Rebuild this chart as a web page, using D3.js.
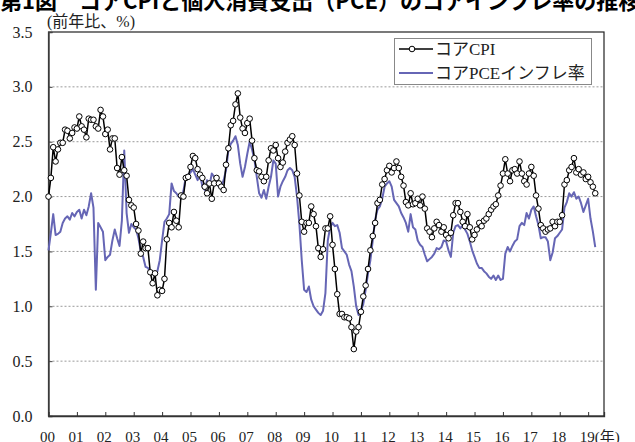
<!DOCTYPE html>
<html><head><meta charset="utf-8">
<script src="https://cdn.jsdelivr.net/npm/d3@7"></script>
<style>body{margin:0;background:#fff}svg{display:block}</style>
</head><body><svg id="c" width="635" height="442"></svg>
<script>
const titleText = "第1図　コアCPIと個人消費支出（PCE）のコアインフレ率の推移";
const unitLabel = "(前年比、%)";
const yearLabels = ["00","01","02","03","04","05","06","07","08","09","10","11","12","13","14","15","16","17","18","19"];
const yTicks = [0, 0.5, 1.0, 1.5, 2.0, 2.5, 3.0, 3.5];
const seriesNames = ["コアCPI", "コアPCEインフレ率"];
// monthly, Jan 2000 - Apr 2019, % y/y
const coreCPI = [
2.00,2.17,2.45,2.32,2.43,2.49,2.49,2.61,2.60,2.53,2.58,2.63,
2.62,2.73,2.64,2.61,2.54,2.71,2.70,2.70,2.64,2.62,2.79,2.73,
2.57,2.61,2.43,2.53,2.53,2.26,2.20,2.36,2.24,2.19,1.97,1.92,
1.90,1.75,1.69,1.48,1.59,1.53,1.53,1.31,1.21,1.30,1.10,1.15,
1.14,1.25,1.61,1.76,1.72,1.86,1.78,1.72,2.01,2.00,2.17,2.18,
2.27,2.37,2.35,2.25,2.20,2.17,2.09,2.03,2.12,1.98,2.12,2.17,
2.12,2.09,2.06,2.29,2.44,2.65,2.69,2.84,2.94,2.72,2.62,2.58,
2.67,2.71,2.51,2.35,2.24,2.23,2.18,2.14,2.18,2.33,2.44,2.42,
2.47,2.35,2.27,2.31,2.41,2.49,2.52,2.55,2.47,2.21,2.01,1.77,
1.68,1.76,1.76,1.91,1.84,1.73,1.53,1.45,1.52,1.71,1.71,1.82,
1.56,1.34,1.11,0.93,0.93,0.90,0.90,0.89,0.81,0.61,0.77,0.81,
0.95,1.09,1.19,1.34,1.51,1.64,1.76,1.94,1.97,2.11,2.16,2.24,
2.28,2.22,2.26,2.32,2.26,2.18,2.10,1.95,1.92,2.03,1.93,1.94,
1.98,1.92,2.00,1.89,1.71,1.68,1.63,1.71,1.77,1.74,1.68,1.72,
1.65,1.62,1.67,1.83,1.94,1.94,1.86,1.77,1.73,1.84,1.72,1.61,
1.65,1.70,1.76,1.73,1.78,1.80,1.84,1.88,1.91,1.93,2.01,2.10,
2.21,2.34,2.21,2.14,2.24,2.25,2.21,2.32,2.21,2.14,2.11,2.21,
2.27,2.19,2.01,1.89,1.74,1.71,1.68,1.70,1.71,1.77,1.73,1.77,
1.77,1.83,2.11,2.15,2.24,2.27,2.35,2.22,2.25,2.20,2.22,2.16,
2.18,2.13,2.09,2.03];
const corePCE = [
1.51,1.67,1.84,1.65,1.66,1.68,1.76,1.80,1.82,1.79,1.85,1.82,
1.86,1.88,1.80,1.88,1.83,1.91,2.03,1.90,1.15,1.76,1.72,1.68,
1.42,1.45,1.47,1.60,1.70,1.62,1.55,1.78,2.42,1.85,1.67,1.75,
1.72,1.70,1.62,1.50,1.45,1.36,1.35,1.31,1.30,1.28,1.32,1.42,
1.60,1.77,1.80,1.84,2.12,2.05,2.03,2.00,1.98,2.05,2.18,2.20,
2.22,2.25,2.20,2.15,2.21,2.09,2.06,2.15,2.10,2.21,2.18,2.12,
2.09,2.09,2.15,2.24,2.42,2.48,2.51,2.55,2.47,2.30,2.18,2.27,
2.39,2.50,2.43,2.34,2.18,2.03,1.99,2.06,1.98,2.09,2.18,2.33,
2.30,2.00,2.09,2.14,2.18,2.24,2.26,2.24,2.18,2.00,1.75,1.42,
1.15,1.13,1.18,1.06,1.00,0.97,0.94,0.92,0.96,1.12,1.60,1.72,
1.76,1.73,1.74,1.67,1.53,1.50,1.47,1.38,1.32,1.18,1.00,0.92,
0.96,1.02,1.15,1.30,1.42,1.60,1.79,1.88,1.91,1.98,2.09,2.12,
2.14,2.09,1.97,1.94,1.91,1.85,1.81,1.76,1.68,1.84,1.72,1.70,
1.60,1.56,1.54,1.47,1.41,1.43,1.45,1.48,1.53,1.52,1.54,1.60,
1.59,1.51,1.45,1.67,1.73,1.74,1.71,1.74,1.70,1.66,1.59,1.51,
1.45,1.39,1.35,1.35,1.32,1.30,1.27,1.25,1.28,1.24,1.28,1.24,
1.25,1.48,1.54,1.50,1.55,1.59,1.61,1.73,1.76,1.74,1.85,1.80,
1.88,1.91,1.82,1.74,1.62,1.63,1.63,1.59,1.42,1.49,1.62,1.64,
1.67,1.70,1.90,1.95,2.03,2.00,2.04,1.98,2.00,1.94,1.86,1.92,
1.98,1.80,1.68,1.54];

const svg = d3.select("#c");
const L = 48.5, R = 604, T = 32, B = 416;
const x = d3.scaleLinear().domain([0, 234.7]).range([L, R]);
const y = d3.scaleLinear().domain([0, 3.5]).range([B, T]);
const serif = "'Liberation Serif','Times New Roman','Noto Sans CJK JP',serif";

// title (cropped at top)
svg.append("text").attr("x", 0).attr("y", 9)
  .attr("font-family", "'Noto Sans CJK JP',sans-serif").attr("font-weight", "bold")
  .attr("font-size", 22).attr("fill", "#000").text(titleText);

svg.append("text").attr("x", 47).attr("y", 27)
  .attr("font-family", serif).attr("font-size", 16).attr("fill", "#222").text(unitLabel);

// gridlines
svg.append("g").selectAll("line").data(yTicks.filter(d => d > 0 && d < 3.5)).join("line")
  .attr("x1", L).attr("x2", R).attr("y1", d => y(d)).attr("y2", d => y(d))
  .attr("stroke", "#9a9a9a").attr("stroke-width", 1).attr("stroke-dasharray", "2,2");

// frame
svg.append("rect").attr("x", L).attr("y", T).attr("width", R - L).attr("height", B - T)
  .attr("fill", "none").attr("stroke", "#222").attr("stroke-width", 1.2);

// y axis
const yAxis = d3.axisLeft(y).tickValues(yTicks).tickSize(-4).tickPadding(16).tickFormat(d3.format(".1f"));
const gy = svg.append("g").attr("transform", `translate(${L},0)`).call(yAxis);
gy.select(".domain").attr("stroke", "#444").attr("stroke-width", 1.5);
gy.selectAll(".tick line").attr("stroke", "#444");
gy.selectAll(".tick text").attr("font-family", serif).attr("font-size", 16).attr("fill", "#222");

// x axis
const xTickIdx = yearLabels.map((d, i) => i * 12);
const xAxis = d3.axisBottom(x).tickValues(xTickIdx).tickSize(-4).tickPadding(15)
  .tickFormat((d, i) => yearLabels[i]);
const gx = svg.append("g").attr("transform", `translate(0,${B})`).call(xAxis);
gx.select(".domain").attr("stroke", "#333").attr("stroke-width", 1.3);
gx.selectAll(".tick line").attr("stroke", "#333");
gx.selectAll(".tick text").attr("font-family", serif).attr("font-size", 15).attr("fill", "#222")
  .attr("dx", -1.5);
gx.selectAll(".tick").filter((d, i) => i === 0).select("line").remove();
const lastTick = gx.selectAll(".tick").filter((d, i) => i === yearLabels.length - 1).select("text");
lastTick.attr("text-anchor", "start").attr("dx", -9).append("tspan").text("(年)");

// series
const line = d3.line().x((d, i) => x(i)).y(d => y(d));
svg.append("path").datum(corePCE).attr("d", line).attr("fill", "none")
  .attr("stroke", "#6666b5").attr("stroke-width", 2).attr("stroke-linejoin", "round");
svg.append("path").datum(coreCPI).attr("d", line).attr("fill", "none")
  .attr("stroke", "#000").attr("stroke-width", 1.5);
svg.append("g").selectAll("circle").data(coreCPI).join("circle")
  .attr("cx", (d, i) => x(i)).attr("cy", d => y(d)).attr("r", 2.8)
  .attr("fill", "#fff").attr("stroke", "#000").attr("stroke-width", 1);

// legend
const lg = svg.append("g");
lg.append("rect").attr("x", 394.5).attr("y", 38.5).attr("width", 197).attr("height", 46)
  .attr("fill", "#fff").attr("stroke", "#888").attr("stroke-width", 1);
const ly = [49, 73];
lg.append("line").attr("x1", 399).attr("x2", 433).attr("y1", ly[0]).attr("y2", ly[0])
  .attr("stroke", "#000").attr("stroke-width", 1.5);
lg.append("circle").attr("cx", 412).attr("cy", ly[0]).attr("r", 2.8)
  .attr("fill", "#fff").attr("stroke", "#000");
lg.append("line").attr("x1", 399).attr("x2", 433).attr("y1", ly[1]).attr("y2", ly[1])
  .attr("stroke", "#6666b5").attr("stroke-width", 2);
lg.selectAll("text.lt").data(seriesNames).join("text").attr("class", "lt")
  .attr("x", 435).attr("y", (d, i) => ly[i] + 6)
  .attr("font-family", serif).attr("font-size", 17).attr("fill", "#222").text(d => d);
</script></body></html>
